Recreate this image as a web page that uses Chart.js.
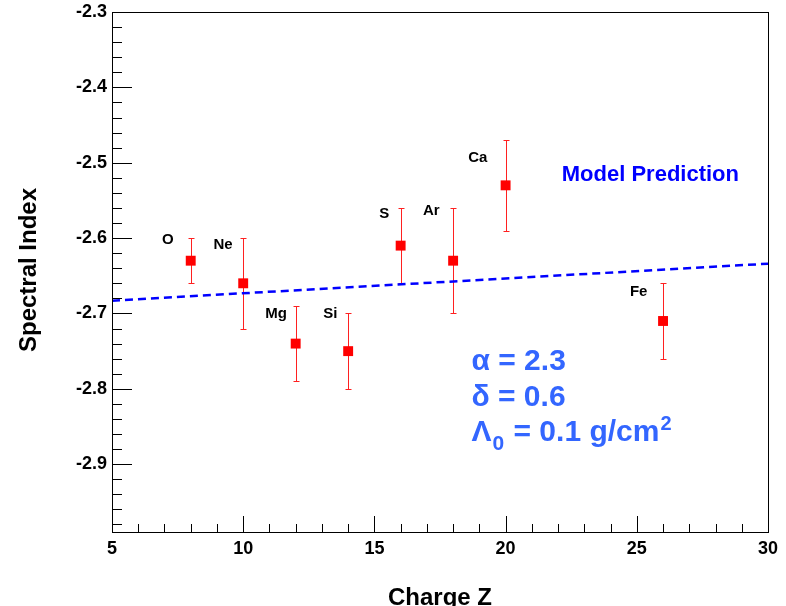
<!DOCTYPE html>
<html>
<head>
<meta charset="utf-8">
<script src="https://cdn.jsdelivr.net/npm/chart.js@4.4.0/dist/chart.umd.min.js"></script>
<style>
  html, body { margin: 0; padding: 0; background: #fff; }
  canvas { display: block; }
</style>
</head>
<body>
<canvas id="spectralChart" width="786" height="606"></canvas>
<script>
// measured points: element, charge Z, spectral index and its error
const elements = ['O', 'Ne', 'Mg', 'Si', 'S', 'Ar', 'Ca', 'Fe'];
const charge = [8, 10, 12, 14, 16, 18, 20, 26];
const spectralIndex = [-2.63, -2.66, -2.74, -2.75, -2.61, -2.63, -2.53, -2.71];
const indexError = [0.03, 0.06, 0.05, 0.05, 0.05, 0.07, 0.06, 0.05];

// model line end points
const modelZ = [5, 30];
const modelIndex = [-2.683, -2.634];

const xTicks = [5, 10, 15, 20, 25, 30];
const yTicks = [-2.3, -2.4, -2.5, -2.6, -2.7, -2.8, -2.9];

// where each element name sits (Z, index)
const labelZ = [7.13, 9.23, 11.25, 13.32, 15.38, 17.17, 18.94, 25.07];
const labelIndex = [-2.602, -2.609, -2.701, -2.701, -2.568, -2.564, -2.493, -2.671];

const FONT = "'Liberation Sans', Arial, Helvetica, sans-serif";

function text(ctx, str, x, y, size, color, align, baseline) {
  ctx.font = 'bold ' + size + 'px ' + FONT;
  ctx.fillStyle = color;
  ctx.textAlign = align || 'left';
  ctx.textBaseline = baseline || 'alphabetic';
  ctx.fillText(str, x, y);
  return ctx.measureText(str).width;
}

// error bars go under the markers
const errorBars = {
  id: 'errorBars',
  beforeDatasetsDraw(chart) {
    const ctx = chart.ctx;
    const xs = chart.scales.x, ys = chart.scales.y;
    ctx.save();
    ctx.strokeStyle = '#ff2020';
    ctx.lineWidth = 1;
    charge.forEach((z, i) => {
      const px = Math.round(xs.getPixelForValue(z)) + 0.5;
      const top = Math.round(ys.getPixelForValue(spectralIndex[i] + indexError[i])) + 0.5;
      const bot = Math.round(ys.getPixelForValue(spectralIndex[i] - indexError[i])) + 0.5;
      ctx.beginPath();
      ctx.moveTo(px, top); ctx.lineTo(px, bot);
      ctx.moveTo(px - 3, top); ctx.lineTo(px + 3, top);
      ctx.moveTo(px - 3, bot); ctx.lineTo(px + 3, bot);
      ctx.stroke();
    });
    ctx.restore();
  }
};

// frame, inward ticks, titles and the text notes
const decorations = {
  id: 'decorations',
  afterDraw(chart) {
    const ctx = chart.ctx;
    const a = chart.chartArea;
    const xs = chart.scales.x, ys = chart.scales.y;
    ctx.save();
    ctx.strokeStyle = '#000';
    ctx.lineWidth = 1;
    ctx.strokeRect(Math.round(a.left) + 0.5, Math.round(a.top) + 0.5,
      Math.round(a.right - a.left), Math.round(a.bottom - a.top));

    ctx.beginPath();
    for (let k = 1; k < 35; k++) {
      const v = -2.3 - k * 0.02;
      const py = Math.round(ys.getPixelForValue(v)) + 0.5;
      const len = k % 5 === 0 ? 20 : 10;
      ctx.moveTo(a.left, py); ctx.lineTo(a.left + len, py);
    }
    for (let z = 6; z < 30; z++) {
      const px = Math.round(xs.getPixelForValue(z)) + 0.5;
      const len = z % 5 === 0 ? 16 : 8;
      ctx.moveTo(px, a.bottom); ctx.lineTo(px, a.bottom - len);
    }
    ctx.stroke();

    // axis titles
    text(ctx, 'Charge Z', (a.left + a.right) / 2, 605, 24, '#000', 'center');
    ctx.save();
    ctx.translate(29, 270);
    ctx.rotate(-Math.PI / 2);
    text(ctx, 'Spectral Index', 0, 0, 24, '#000', 'center', 'middle');
    ctx.restore();

    // element names
    elements.forEach((name, i) => {
      text(ctx, name, xs.getPixelForValue(labelZ[i]), ys.getPixelForValue(labelIndex[i]),
        15, '#000', 'center', 'middle');
    });

    text(ctx, 'Model Prediction', xs.getPixelForValue(22.14), ys.getPixelForValue(-2.524),
      22, '#0000ff', 'left');

    // model parameters
    const blue = '#3366ff';
    const x0 = xs.getPixelForValue(18.7);
    text(ctx, '\u03b1 = 2.3', x0, ys.getPixelForValue(-2.7755), 30, blue);
    text(ctx, '\u03b4 = 0.6', x0, ys.getPixelForValue(-2.823), 30, blue);
    const b3 = ys.getPixelForValue(-2.8695);
    let x = x0;
    x += text(ctx, '\u039b', x, b3, 30, blue);
    x += text(ctx, '0', x + 1, b3 + 9, 21, blue);
    x += text(ctx, ' = 0.1 g/cm', x + 2, b3, 30, blue);
    text(ctx, '2', x + 3, b3 - 11, 20, blue);
    ctx.restore();
  }
};

new Chart(document.getElementById('spectralChart'), {
  type: 'scatter',
  data: {
    datasets: [
      {
        type: 'line',
        label: 'Model Prediction',
        data: modelZ.map((z, i) => ({ x: z, y: modelIndex[i] })),
        borderColor: '#0000ff',
        borderWidth: 2.5,
        borderDash: [8, 5],
        pointRadius: 0,
        fill: false
      },
      {
        label: 'Spectral Index',
        data: charge.map((z, i) => ({ x: z, y: spectralIndex[i] })),
        pointStyle: 'rect',
        pointRadius: 7,
        backgroundColor: '#ff0000',
        borderColor: '#ff0000',
        borderWidth: 0
      }
    ]
  },
  options: {
    responsive: false,
    animation: false,
    layout: { padding: { left: 0, right: 18, top: 12, bottom: 0 } },
    plugins: {
      legend: { display: false },
      tooltip: { enabled: false }
    },
    scales: {
      x: {
        type: 'linear',
        min: 5,
        max: 30,
        grid: { display: false, drawTicks: false },
        border: { display: false },
        afterBuildTicks: (s) => { s.ticks = xTicks.map(v => ({ value: v })); },
        afterFit: (s) => { s.height = 74; s.paddingLeft = 0; s.paddingRight = 0; },
        ticks: {
          padding: 6,
          color: '#000',
          font: { family: FONT, size: 18, weight: 'bold' },
          maxRotation: 0,
          callback: (v) => String(v)
        }
      },
      y: {
        type: 'linear',
        min: -2.99,
        max: -2.3,
        grid: { display: false, drawTicks: false },
        border: { display: false },
        afterBuildTicks: (s) => { s.ticks = yTicks.map(v => ({ value: v })); },
        afterFit: (s) => { s.width = 112; s.paddingTop = 0; s.paddingBottom = 0; },
        ticks: {
          padding: 5,
          color: '#000',
          font: { family: FONT, size: 18, weight: 'bold' },
          callback: (v) => v.toFixed(1)
        }
      }
    }
  },
  plugins: [errorBars, decorations]
});
</script>
</body>
</html>
